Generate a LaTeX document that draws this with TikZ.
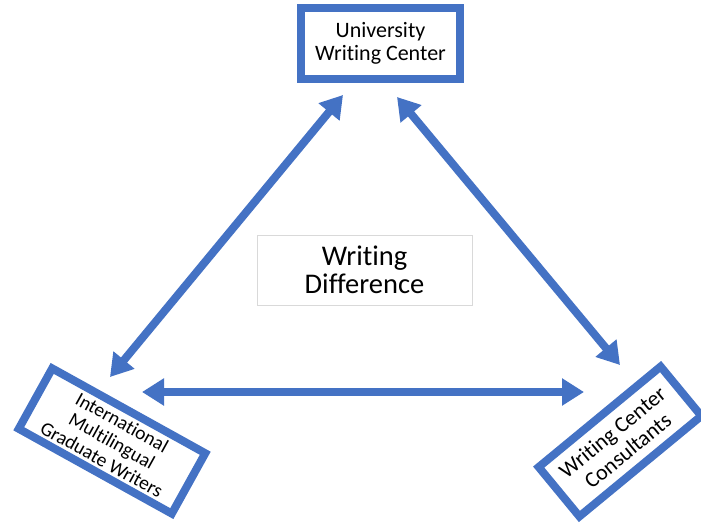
\documentclass[tikz,border=0pt]{standalone}
\usepackage{fontspec}
\setmainfont[Ligatures=NoCommon]{Carlito}
\usetikzlibrary{arrows.meta}
\definecolor{obl}{HTML}{4472C4}
\definecolor{gborder}{HTML}{D9D9D9}
\tikzset{
  ebox/.style={draw=obl, line width=8pt, fill=white, rectangle, inner sep=0pt, align=center, text=black},
  link/.style={draw=obl, line width=8pt, {Triangle[length=22pt,width=26pt]}-{Triangle[length=22pt,width=26pt]}},
}
\begin{document}
\begin{tikzpicture}[x=1pt,y=1pt]
\useasboundingbox (0,0) rectangle (701,-525);
\node[ebox, minimum width=159pt, minimum height=71pt, font=\fontsize{22}{23}\selectfont] (uwc) at (380.5,-43.5) {University\\Writing Center};
\node[draw=gborder, line width=0.8pt, minimum width=215pt, minimum height=70pt, inner sep=0pt, align=center, font=\fontsize{28.5}{28}\selectfont] (wd) at (364.5,-270) {Writing\\Difference};
\node[ebox, minimum width=175pt, minimum height=69pt, rotate=-29, font=\fontsize{19.5}{21}\selectfont] (imgw) at (112,-441) {International\\Multilingual\\Graduate Writers};
\node[ebox, minimum width=158pt, minimum height=64pt, rotate=39.5, font=\fontsize{22}{24}\selectfont] (wcc) at (620,-441.5) {Writing Center\\Consultants};
\coordinate (a1) at (343,-95);
\coordinate (a2) at (110,-377);
\coordinate (b1) at (397,-97);
\coordinate (b2) at (620,-365);
\coordinate (c1) at (142,-392);
\coordinate (c2) at (584,-392);
\draw[link] (a1) -- (a2);
\draw[link] (b1) -- (b2);
\draw[link] (c1) -- (c2);
\end{tikzpicture}
\end{document}
